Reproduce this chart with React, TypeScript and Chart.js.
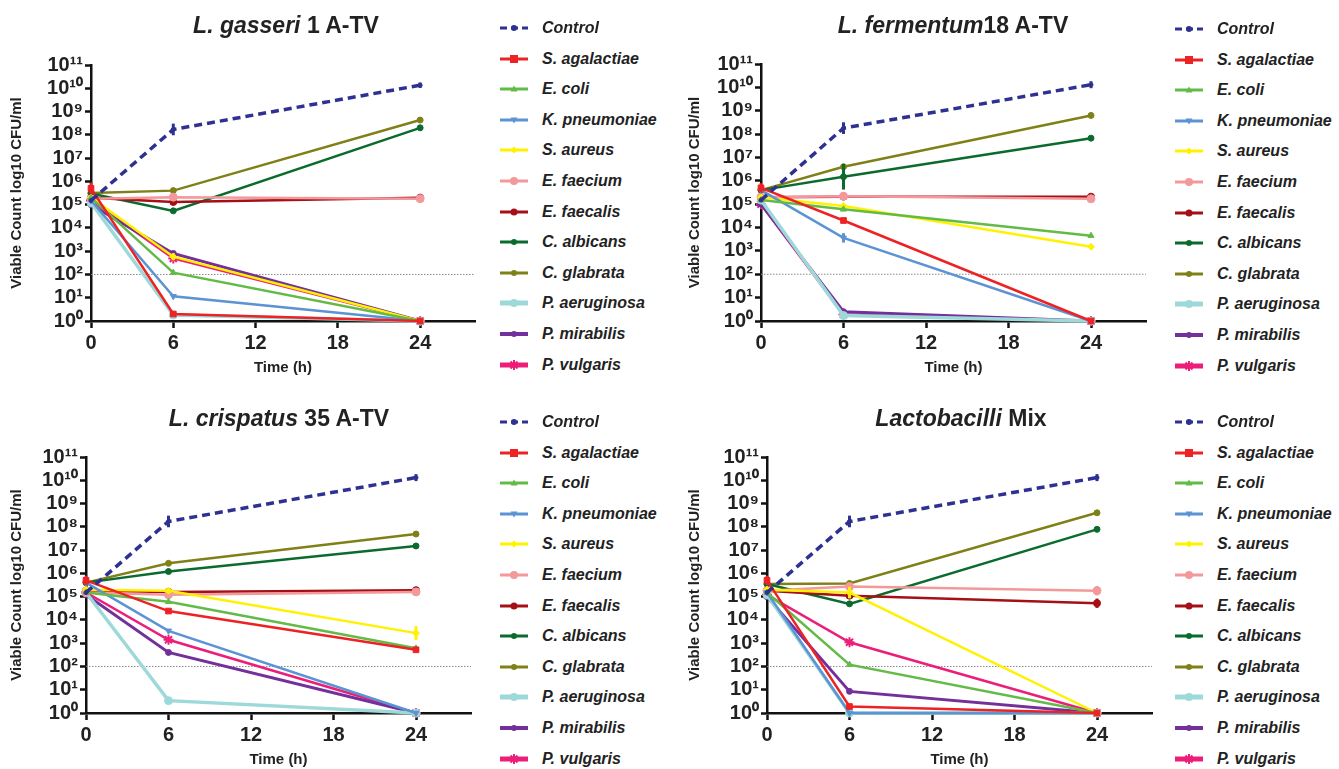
import React, { useEffect, useRef } from 'react';
import { Chart, registerables } from 'chart.js';

Chart.register(...registerables);

const FONT = "'Liberation Sans', Arial, Helvetica, sans-serif";

// ---------- data ----------
const TIMES = [0, 6, 24];
const X_TICKS = [0, 6, 12, 18, 24];
const X_MAX = 28;
const Y_TICKS = [1, 1e1, 1e2, 1e3, 1e4, 1e5, 1e6, 1e7, 1e8, 1e9, 1e10, 1e11];
const DETECTION_LIMIT = 100;

const SPECIES = [
  'Control', 'S. agalactiae', 'E. coli', 'K. pneumoniae', 'S. aureus', 'E. faecium',
  'E. faecalis', 'C. albicans', 'C. glabrata', 'P. aeruginosa', 'P. mirabilis', 'P. vulgaris',
];

// values at 0 h, 6 h, 24 h (CFU/ml)
const GASSERI_1 = [
  [1.5e5, 1.7e8, 1.35e10],
  [5e5, 2, 1],
  [2e5, 1.2e2, 1],
  [1.5e5, 11.5, 1],
  [2e5, 5.8e2, 1],
  [1.8e5, 2.1e5, 1.8e5],
  [2e5, 1.3e5, 2e5],
  [3e5, 5.4e4, 2e8],
  [3.2e5, 4e5, 4.3e8],
  [1.2e5, 1.8, 1],
  [1e5, 8e2, 1],
  [1.5e5, 4.9e2, 1],
];
// error half-range in log10 units at 0 h, 6 h, 24 h
const GASSERI_1_ERR = [
  [0, 0.25, 0.12], [0.25, 0, 0], [0, 0, 0], [0, 0, 0], [0, 0.15, 0], [0, 0, 0],
  [0, 0, 0], [0, 0, 0], [0, 0, 0], [0, 0, 0], [0, 0, 0], [0, 0, 0],
];

const FERMENTUM_18 = [
  [1.5e5, 1.8e8, 1.3e10],
  [5e5, 2e4, 1],
  [1.5e5, 6e4, 4.5e3],
  [4e5, 3.6e3, 1],
  [2e5, 8.3e4, 1.5e3],
  [2e5, 2.2e5, 1.7e5],
  [2e5, 2.1e5, 2.1e5],
  [4e5, 1.5e6, 6.7e7],
  [4e5, 4e6, 6.3e8],
  [1.5e5, 1.7, 1],
  [1e5, 2.5, 1],
  [1e5, 1.9, 1],
];
const FERMENTUM_18_ERR = [
  [0, 0.25, 0.15], [0.2, 0, 0], [0, 0, 0], [0, 0.2, 0], [0, 0, 0], [0, 0, 0],
  [0, 0, 0], [0, 0.55, 0], [0, 0, 0], [0, 0, 0], [0, 0, 0], [0, 0, 0],
];

const CRISPATUS_35 = [
  [1.5e5, 1.7e8, 1.3e10],
  [5e5, 2.4e4, 5.2e2],
  [1.5e5, 6e4, 6e2],
  [4e5, 3.4e3, 1],
  [2e5, 1.8e5, 2.7e3],
  [1.5e5, 1.2e5, 1.6e5],
  [1.8e5, 1.6e5, 1.9e5],
  [4e5, 1.2e6, 1.5e7],
  [4e5, 2.7e6, 4.9e7],
  [1.5e5, 3.4, 1],
  [1.2e5, 4e2, 1],
  [1.5e5, 1.4e3, 1],
];
const CRISPATUS_35_ERR = [
  [0, 0.25, 0.15], [0.2, 0, 0], [0, 0, 0], [0, 0, 0], [0, 0, 0.3], [0, 0, 0],
  [0, 0, 0], [0, 0, 0], [0, 0, 0], [0, 0, 0], [0, 0, 0], [0, 0, 0],
];

const LACTO_MIX = [
  [1.5e5, 1.7e8, 1.3e10],
  [5e5, 1.9, 1],
  [1.5e5, 1.2e2, 1],
  [1.5e5, 1, 1],
  [2e5, 1.5e5, 1],
  [1.8e5, 2.7e5, 1.8e5],
  [1.8e5, 1.1e5, 5.2e4],
  [3.5e5, 4.9e4, 7.8e7],
  [3.5e5, 3.7e5, 4e8],
  [1.2e5, 1, 1],
  [1e5, 8.5, 1],
  [1.2e5, 1.1e3, 1],
];
const LACTO_MIX_ERR = [
  [0, 0.25, 0.15], [0.2, 0, 0], [0, 0, 0], [0, 0, 0], [0, 0.25, 0], [0, 0, 0.2],
  [0, 0, 0.2], [0, 0, 0], [0, 0, 0], [0, 0, 0], [0, 0, 0], [0, 0, 0],
];

// ---------- styles ----------
const COLORS = [
  '#2e3192', '#ed2224', '#62bb47', '#5b93d3', '#fff200', '#f4999b',
  '#a50f16', '#0b6b2f', '#808019', '#9ed9d9', '#74309a', '#ec1e79',
];
const MARKERS = ['circle', 'rect', 'triangle', 'triangle', 'rectRot', 'circle', 'circle', 'circle', 'circle', 'circle', 'circle', 'star'];
const ROTATIONS = [0, 0, 0, 180, 0, 0, 0, 0, 0, 0, 0, 0];
const RADII = [2, 4, 3.5, 3.5, 3.5, 4, 3.5, 3, 3, 4, 3, 5];
const WIDTHS = [3.5, 2.5, 2.5, 2.5, 2.5, 2.5, 2.5, 2.5, 2.5, 3.5, 3, 2.5];
const LEGEND_WIDTHS = [3, 3, 3, 3, 3, 3, 3, 3, 3, 5, 4, 5];

const SUP = '⁰¹²³⁴⁵⁶⁷⁸⁹';
const sup = (n: number) => String(n).split('').map((d) => SUP[+d]).join('');

const PANELS = [
  { italic: 'L. gasseri', rest: ' 1 A-TV', data: GASSERI_1, err: GASSERI_1_ERR, canvasLeft: 0, canvasTop: 0, axisX: 91, plotRight: 475, plotTop: 65, plotBottom: 321, yTitleX: 17, titleCx: 286, titleCy: 25, legendX: 500, legendY: 28 },
  { italic: 'L. fermentum', rest: '18 A-TV', data: FERMENTUM_18, err: FERMENTUM_18_ERR, canvasLeft: 670, canvasTop: 0, axisX: 761, plotRight: 1146, plotTop: 64, plotBottom: 321, yTitleX: 695, titleCx: 953, titleCy: 25, legendX: 1175, legendY: 29 },
  { italic: 'L. crispatus', rest: ' 35 A-TV', data: CRISPATUS_35, err: CRISPATUS_35_ERR, canvasLeft: 0, canvasTop: 385, axisX: 86, plotRight: 471, plotTop: 457, plotBottom: 713, yTitleX: 17, titleCx: 279, titleCy: 418, legendX: 500, legendY: 422 },
  { italic: 'Lactobacilli', rest: ' Mix', data: LACTO_MIX, err: LACTO_MIX_ERR, canvasLeft: 670, canvasTop: 385, axisX: 767, plotRight: 1152, plotTop: 457, plotBottom: 713, yTitleX: 695, titleCx: 961, titleCy: 418, legendX: 1175, legendY: 422 },
];

const CW = 500;
const CH = 385;
const XH = 56;

const errorBarPlugin = {
  id: 'errorBars',
  afterDatasetsDraw(chart: any, _args: any, opts: any) {
    const err = opts && opts.err;
    if (!err) return;
    const { ctx, scales } = chart;
    ctx.save();
    SPECIES.forEach((_, i) => {
      TIMES.forEach((t, j) => {
        const e = err[i][j];
        if (!e) return;
        const v = chart.data.datasets[i].data[j].y;
        const x = scales.x.getPixelForValue(t);
        const y1 = scales.y.getPixelForValue(v * Math.pow(10, e));
        const y2 = scales.y.getPixelForValue(v / Math.pow(10, e));
        ctx.strokeStyle = COLORS[i];
        ctx.lineWidth = 3;
        ctx.beginPath();
        ctx.moveTo(x, y1);
        ctx.lineTo(x, y2);
        ctx.stroke();
      });
    });
    ctx.restore();
  },
};

function PanelChart({ cfg }: { cfg: any }) {
  const ref = useRef<HTMLCanvasElement>(null);
  useEffect(() => {
    if (!ref.current) return;
    const datasets: any[] = SPECIES.map((name, i) => ({
      label: name,
      data: TIMES.map((t, j) => ({ x: t, y: cfg.data[i][j] })),
      borderColor: COLORS[i],
      backgroundColor: COLORS[i],
      borderWidth: WIDTHS[i],
      borderDash: i === 0 ? [8, 5] : [],
      pointStyle: MARKERS[i],
      rotation: ROTATIONS[i],
      pointRadius: RADII[i],
      pointBorderWidth: MARKERS[i] === 'star' ? 2 : 1,
      pointBorderColor: COLORS[i],
      pointBackgroundColor: COLORS[i],
      tension: 0,
      clip: false,
    }));
    datasets.push({
      label: 'limit',
      data: [{ x: 0, y: DETECTION_LIMIT }, { x: X_MAX, y: DETECTION_LIMIT }],
      borderColor: '#8a8a8a',
      borderWidth: 1,
      borderDash: [1.5, 1.5],
      pointRadius: 0,
      clip: false,
    });
    const padTop = cfg.plotTop - cfg.canvasTop;
    const padRight = CW - (cfg.plotRight - cfg.canvasLeft);
    const padBottom = CH - (cfg.plotBottom - cfg.canvasTop) - XH;
    const chart = new Chart(ref.current, {
      type: 'line',
      data: { datasets },
      plugins: [errorBarPlugin],
      options: {
        responsive: false,
        animation: false,
        devicePixelRatio: 1,
        layout: { padding: { left: 0, top: padTop, right: padRight, bottom: Math.max(0, padBottom) } },
        plugins: { legend: { display: false }, tooltip: { enabled: false }, title: { display: false }, errorBars: { err: cfg.err } },
        scales: {
          x: {
            type: 'linear',
            min: 0,
            max: X_MAX,
            afterBuildTicks: (s: any) => { s.ticks = X_TICKS.map((v) => ({ value: v })); },
            afterFit: (s: any) => { s.height = XH; },
            grid: { drawOnChartArea: false, drawTicks: true, tickLength: 7, tickWidth: 2.5, tickColor: '#111' },
            border: { display: true, color: '#111', width: 2.5 },
            ticks: { color: '#222', font: { family: FONT, size: 20, weight: 'bold' }, padding: 3, maxRotation: 0, autoSkip: false },
            title: { display: true, text: 'Time (h)', color: '#222', font: { family: FONT, size: 15, weight: 'bold' }, padding: { top: 0, bottom: 0 } },
          },
          y: {
            type: 'logarithmic',
            min: 1,
            max: 1e11,
            afterBuildTicks: (s: any) => { s.ticks = Y_TICKS.map((v) => ({ value: v })); },
            afterFit: (s: any) => { s.width = cfg.axisX - cfg.canvasLeft; },
            grid: { drawOnChartArea: false, drawTicks: true, tickLength: 6, tickWidth: 2.5, tickColor: '#111' },
            border: { display: true, color: '#111', width: 2.5 },
            ticks: {
              color: '#222',
              font: { family: FONT, size: 20, weight: 'bold' },
              padding: 2,
              autoSkip: false,
              callback: (v: any) => '10' + sup(Math.round(Math.log10(v))),
            },
            title: { display: true, text: 'Viable Count log10 CFU/ml', color: '#222', font: { family: FONT, size: 15, weight: 'bold' }, padding: { top: cfg.yTitleX - cfg.canvasLeft - 9, bottom: 0 } },
          },
        },
      } as any,
    });
    return () => chart.destroy();
  }, [cfg]);
  return (
    <canvas
      ref={ref}
      width={CW}
      height={CH}
      style={{ position: 'absolute', left: cfg.canvasLeft, top: cfg.canvasTop, width: CW, height: CH }}
    />
  );
}

function LegendMarker({ i }: { i: number }) {
  const c = COLORS[i];
  const cx = 14, cy = 7;
  const r = RADII[i];
  let marker: any = null;
  const m = MARKERS[i];
  if (m === 'circle') marker = <circle cx={cx} cy={cy} r={Math.max(r, 3)} fill={c} />;
  else if (m === 'rect') marker = <rect x={cx - r} y={cy - r} width={2 * r} height={2 * r} fill={c} />;
  else if (m === 'triangle') {
    const pts = ROTATIONS[i] === 180
      ? `${cx},${cy + r} ${cx - r},${cy - r * 0.7} ${cx + r},${cy - r * 0.7}`
      : `${cx},${cy - r} ${cx - r},${cy + r * 0.7} ${cx + r},${cy + r * 0.7}`;
    marker = <polygon points={pts} fill={c} />;
  } else if (m === 'rectRot') marker = <polygon points={`${cx},${cy - r} ${cx + r},${cy} ${cx},${cy + r} ${cx - r},${cy}`} fill={c} />;
  else if (m === 'star') marker = (
    <g stroke={c} strokeWidth={2}>
      <line x1={cx} y1={cy - r} x2={cx} y2={cy + r} />
      <line x1={cx - r} y1={cy} x2={cx + r} y2={cy} />
      <line x1={cx - r * 0.7} y1={cy - r * 0.7} x2={cx + r * 0.7} y2={cy + r * 0.7} />
      <line x1={cx - r * 0.7} y1={cy + r * 0.7} x2={cx + r * 0.7} y2={cy - r * 0.7} />
    </g>
  );
  return (
    <svg width={28} height={14} style={{ position: 'absolute', left: 0, top: 0 }}>
      <line x1={0} y1={cy} x2={28} y2={cy} stroke={c} strokeWidth={LEGEND_WIDTHS[i]} strokeDasharray={i === 0 ? '7 4' : undefined} />
      {marker}
    </svg>
  );
}

function Legend({ cfg }: { cfg: any }) {
  return (
    <>
      {SPECIES.map((name, i) => (
        <div key={name} style={{ position: 'absolute', left: cfg.legendX, top: cfg.legendY + i * 30.6 - 7, height: 14, width: 170 }}>
          <LegendMarker i={i} />
          <span style={{ position: 'absolute', left: 42, top: -3, fontFamily: FONT, fontSize: 16, fontWeight: 'bold', fontStyle: 'italic', color: '#222', lineHeight: '20px', whiteSpace: 'nowrap' }}>{name}</span>
        </div>
      ))}
    </>
  );
}

function Title({ cfg }: { cfg: any }) {
  return (
    <div style={{ position: 'absolute', left: cfg.titleCx - 200, width: 400, top: cfg.titleCy - 14, height: 28, lineHeight: '28px', textAlign: 'center', fontFamily: FONT, fontSize: 23, fontWeight: 'bold', color: '#222', whiteSpace: 'nowrap' }}>
      <i>{cfg.italic}</i>{cfg.rest}
    </div>
  );
}

export default function App() {
  return (
    <div style={{ position: 'fixed', left: 0, top: 0, width: 1339, height: 769, background: '#fff', overflow: 'hidden' }}>
      {PANELS.map((cfg, k) => (
        <React.Fragment key={k}>
          <PanelChart cfg={cfg} />
          <Title cfg={cfg} />
          <Legend cfg={cfg} />
        </React.Fragment>
      ))}
    </div>
  );
}
